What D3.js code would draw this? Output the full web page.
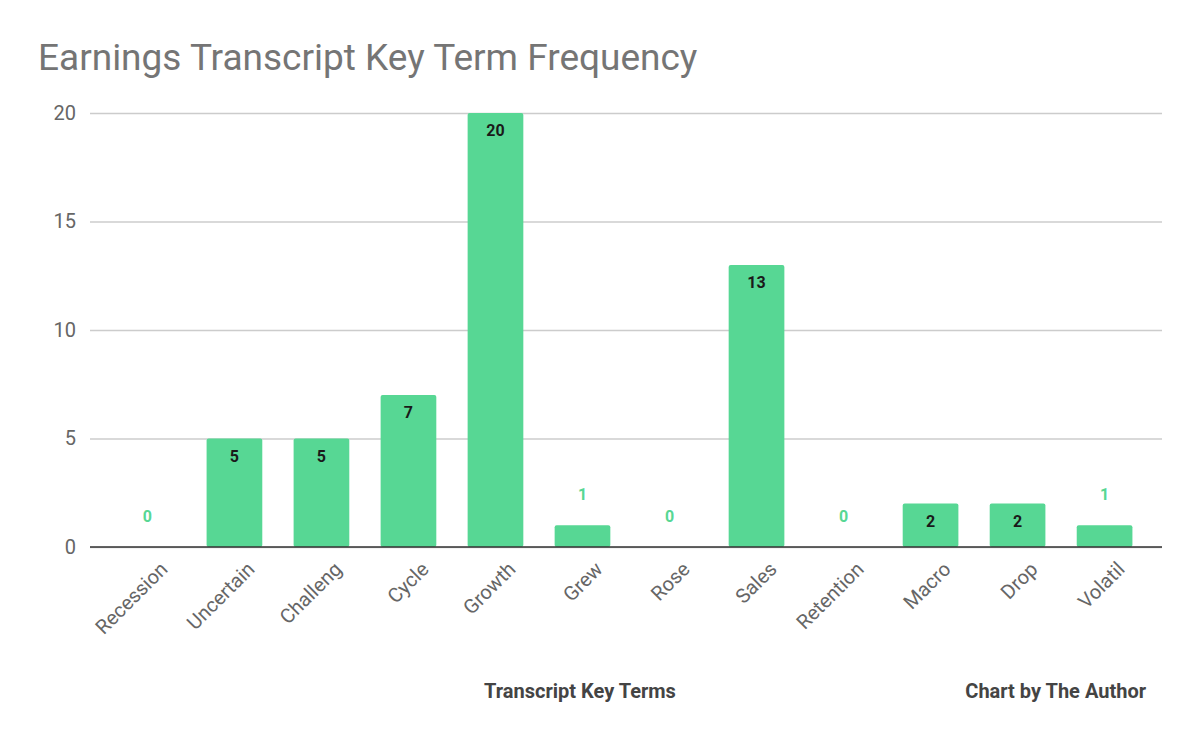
<!DOCTYPE html>
<html>
<head>
<meta charset="utf-8">
<script src="https://cdn.jsdelivr.net/npm/d3@7"></script>
<style>
body { margin: 0; background: #fff; }
text { font-family: Roboto, "Noto Sans", sans-serif; }
</style>
</head>
<body>
<div class="canvas"></div>
<script>
const terms = ["Recession", "Uncertain", "Challeng", "Cycle", "Growth", "Grew", "Rose", "Sales", "Retention", "Macro", "Drop", "Volatil"]
const counts = [0, 5, 5, 7, 20, 1, 0, 13, 0, 2, 2, 1]
const yTicks = [0, 5, 10, 15, 20]

const width = 1200, height = 741
const margin = { top: 113, right: 38, bottom: 194, left: 90 }
const graphWidth = width - margin.left - margin.right
const graphHeight = height - margin.top - margin.bottom
const barColor = "#57d794"

const svg = d3.select(".canvas")
    .append("svg")
    .attr("width", width)
    .attr("height", height)

svg.append("text")
    .attr("x", 38).attr("y", 70)
    .attr("font-size", 37)
    .attr("fill", "#757575")
    .text("Earnings Transcript Key Term Frequency")

const graph = svg.append("g")
    .attr("transform", `translate(${margin.left}, ${margin.top})`)

const scaleY = d3.scaleLinear().domain([0, 20]).range([graphHeight, 0])
const scaleX = d3.scaleBand()
    .domain(terms)
    .range([0, graphWidth])
    .paddingInner(0.36)
    .paddingOuter(0.34)

// gridlines + y labels
const yAxis = d3.axisLeft(scaleY).tickValues(yTicks).tickSize(-graphWidth).tickPadding(14)
const yg = graph.append("g").call(yAxis)
yg.select(".domain").remove()
yg.selectAll("line").attr("stroke", "#cccccc").attr("stroke-width", 1.3)
yg.selectAll("text").attr("font-size", 20).attr("fill", "#666")
    .attr("font-family", "Roboto, sans-serif")

graph.selectAll("rect")
    .data(counts)
    .enter()
    .append("rect")
    .attr("x", (d, i) => scaleX(terms[i]))
    .attr("y", d => scaleY(d))
    .attr("width", scaleX.bandwidth())
    .attr("height", d => graphHeight - scaleY(d))
    .attr("rx", 2)
    .attr("fill", barColor)

graph.selectAll(".val")
    .data(counts)
    .enter()
    .append("text")
    .attr("x", (d, i) => scaleX(terms[i]) + scaleX.bandwidth() / 2)
    .attr("y", d => d >= 2 ? scaleY(d) + 23 : scaleY(d) - 25)
    .attr("text-anchor", "middle")
    .attr("font-size", 16)
    .attr("font-weight", "bold")
    .attr("fill", d => d >= 2 ? "#1a1a1a" : barColor)
    .text(d => d)

// baseline
const xg = graph.append("g")
    .attr("transform", `translate(0, ${graphHeight})`)
    .call(d3.axisBottom(scaleX).tickSize(0).tickPadding(12))
xg.select(".domain").attr("stroke", "#333").attr("stroke-width", 1.5)
    .attr("d", `M0,0H${graphWidth}`)
xg.selectAll("text")
    .attr("font-size", 20)
    .attr("fill", "#666")
    .attr("font-family", "Roboto, sans-serif")
    .attr("text-anchor", "end")
    .attr("dy", "0.35em")
    .attr("transform", `translate(8, 10) rotate(-45)`)

svg.append("text")
    .attr("x", 580).attr("y", 698)
    .attr("text-anchor", "middle")
    .attr("font-size", 20).attr("font-weight", "bold").attr("fill", "#444")
    .text("Transcript Key Terms")

svg.append("text")
    .attr("x", 1146).attr("y", 698)
    .attr("text-anchor", "end")
    .attr("font-size", 20).attr("font-weight", "bold").attr("fill", "#444")
    .text("Chart by The Author")
</script>
</body>
</html>
